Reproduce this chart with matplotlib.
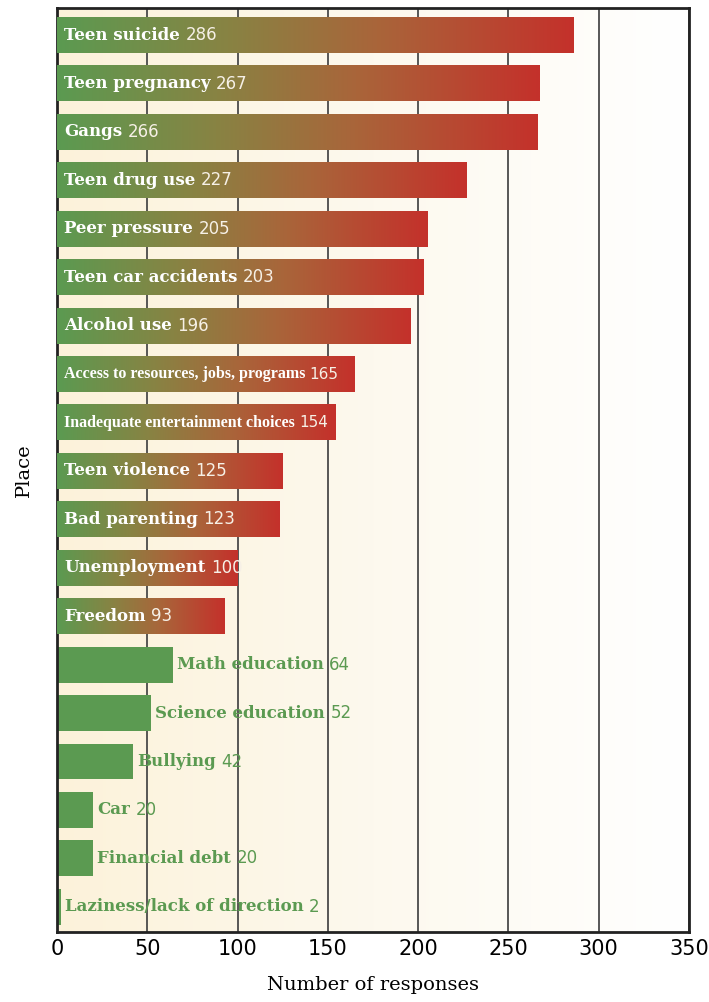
import numpy as np
import matplotlib.pyplot as plt
from matplotlib.colors import LinearSegmentedColormap

names = ["Teen suicide", "Teen pregnancy", "Gangs", "Teen drug use",
         "Peer pressure", "Teen car accidents", "Alcohol use",
         "Access to resources, jobs, programs",
         "Inadequate entertainment choices", "Teen violence",
         "Bad parenting", "Unemployment", "Freedom", "Math education",
         "Science education", "Bullying", "Car", "Financial debt",
         "Laziness/lack of direction"]
counts = [286, 267, 266, 227, 205, 203, 196, 165, 154, 125, 123, 100,
          93, 64, 52, 42, 20, 20, 2]
x_ticks = [0, 50, 100, 150, 200, 250, 300, 350]

green = "#5b9a51"
red = "#c4312b"
bar_cmap = LinearSegmentedColormap.from_list(
    "greenred", [(0, green), (0.33, "#888343"), (0.62, "#a9653a"), (1, red)])
bg_cmap = LinearSegmentedColormap.from_list("cream", ["#fcf2da", "#fdf9ee", "#ffffff"])

# the two longest labels get a narrower face so they fit inside their bars
long_names = {"Access to resources, jobs, programs",
              "Inadequate entertainment choices"}

fig = plt.figure(figsize=(7.09, 10.02), dpi=100)
ax = fig.add_axes([0.0804, 0.0699, 0.8914, 0.9221])

# soft cream-to-white wash behind the plot
ax.imshow(np.linspace(0, 1, 256).reshape(1, -1), cmap=bg_cmap,
          extent=(0, 1, 0, 1), transform=ax.transAxes, aspect="auto", zorder=0)

h = 0.74
ypos = np.arange(len(names))
ax.barh(ypos, counts, height=h, color=green, zorder=2)

ramp = np.linspace(0, 1, 256).reshape(1, -1)
for y, name, c in zip(ypos, names, counts):
    if c >= 90:
        ax.imshow(ramp, cmap=bar_cmap, extent=(0, c, y + h / 2, y - h / 2),
                  aspect="auto", zorder=3, interpolation="bilinear")
        if name in long_names:
            t = ax.annotate(name, xy=(0, y), xytext=(5, 0),
                            textcoords="offset points", va="center",
                            color="white", fontsize=11.5, fontweight="bold",
                            family="Liberation Serif", zorder=4)
            num_size, gap = 11, 3
        else:
            t = ax.annotate(name, xy=(0, y), xytext=(5, 0),
                            textcoords="offset points", va="center",
                            color="white", fontsize=12, fontweight="bold",
                            family="DejaVu Serif", zorder=4)
            num_size, gap = 12, 4
        ax.annotate(str(c), xy=(1, 0.5), xycoords=t, xytext=(gap, 0),
                    textcoords="offset points", va="center", ha="left",
                    color="#f6f0e6", fontsize=num_size, family="DejaVu Sans",
                    zorder=4)
    else:
        t = ax.annotate(name, xy=(c, y), xytext=(3, 0),
                        textcoords="offset points", va="center",
                        color=green, fontsize=12, fontweight="bold",
                        family="DejaVu Serif", zorder=4)
        ax.annotate(str(c), xy=(1, 0.5), xycoords=t, xytext=(4, 0),
                    textcoords="offset points", va="center", ha="left",
                    color=green, fontsize=12, family="DejaVu Sans", zorder=4)

ax.set_xlim(0, 350)
ax.set_ylim(18.52, -0.56)
ax.set_xticks(x_ticks)
ax.set_yticks([])
ax.set_axisbelow(True)
ax.grid(axis="x", color="#4a4a4a", linewidth=1.3)
ax.tick_params(axis="x", length=0, pad=5, labelsize=15)
for lab in ax.get_xticklabels():
    lab.set_family("DejaVu Sans")

for s in ax.spines.values():
    s.set_linewidth(2)
    s.set_color("#222222")

ax.set_xlabel("Number of responses", family="DejaVu Serif", fontsize=14, labelpad=12)
ax.set_ylabel("Place", family="DejaVu Serif", fontsize=14, labelpad=17)

fig.savefig("out.png", dpi=100)
